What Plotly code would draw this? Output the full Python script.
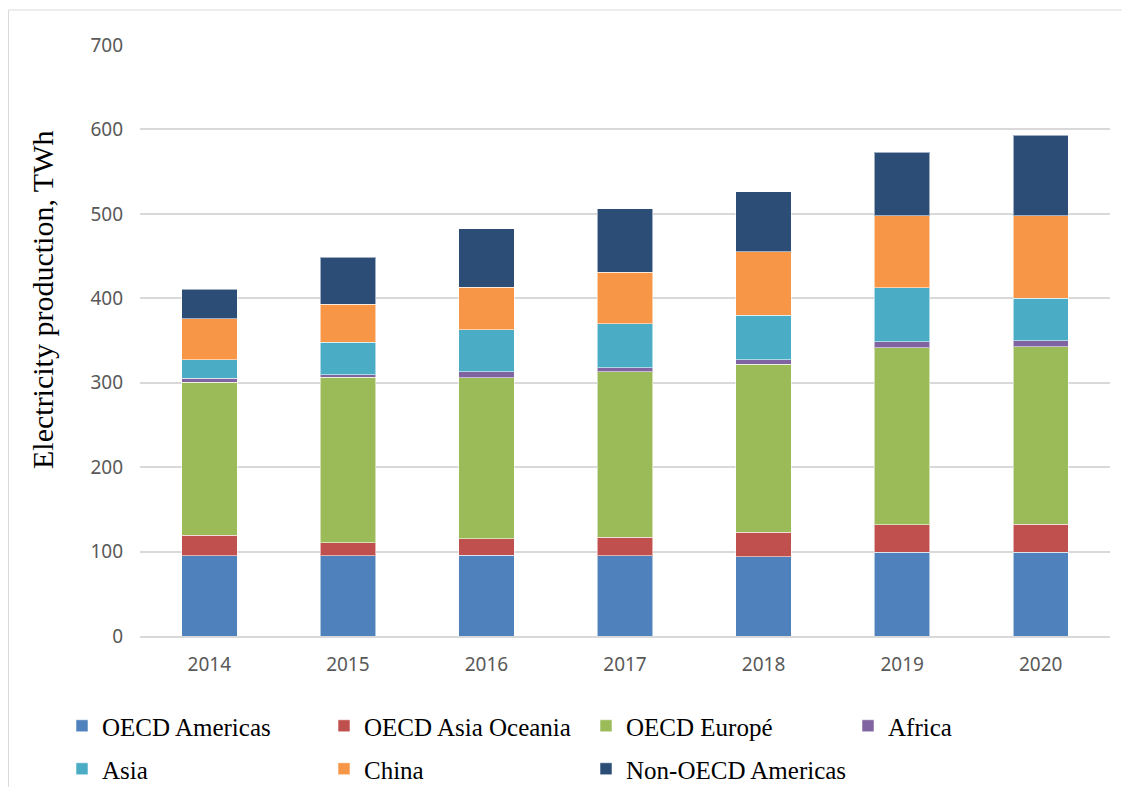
import plotly.graph_objects as go

years = ["2014", "2015", "2016", "2017", "2018", "2019", "2020"]
oecd_americas = [95, 95, 95.5, 95, 94, 99, 99]
oecd_asia_oceania = [24.5, 15.5, 19.5, 22, 29, 32.5, 33.5]
oecd_europe = [181, 196, 191, 196, 199, 210, 210]
africa = [5, 3, 7, 5, 5.5, 7, 7.5]
asia = [22, 38.5, 50, 52, 52.5, 64, 50]
china = [48, 45, 50, 61, 75, 85, 98]
non_oecd_americas = [35, 55.5, 69.5, 75, 71, 75.5, 95]

series = [
    ("OECD Americas", oecd_americas, "#4F81BD", "legend"),
    ("OECD Asia Oceania", oecd_asia_oceania, "#C0504D", "legend"),
    ("OECD Europé", oecd_europe, "#9BBB59", "legend"),
    ("Africa", africa, "#8064A2", "legend"),
    ("Asia", asia, "#4BACC6", "legend2"),
    ("China", china, "#F79646", "legend2"),
    ("Non-OECD Americas", non_oecd_americas, "#2C4D75", "legend2"),
]

fig = go.Figure()
for name, vals, color, lg in series:
    fig.add_trace(go.Bar(
        x=years, y=vals, name=name, legend=lg,
        marker=dict(color=color, line=dict(color="rgba(255,255,255,0.55)", width=1)),
    ))

legend_font = dict(family="Liberation Serif", size=25, color="#000000")

# page body has an 8px margin; work in screen coordinates and convert
OFF = 8
W, H = 1122, 800
L, T = 132, 37
PLOT_RIGHT = 1110 - OFF
R = W - PLOT_RIGHT
PLOT_BOTTOM = 636 - OFF
B = H - PLOT_BOTTOM
pw, ph = PLOT_RIGHT - L, PLOT_BOTTOM - T

def px_x(sx):
    return (sx - OFF - L) / pw

def px_y(sy):
    return (PLOT_BOTTOM - (sy - OFF)) / ph

border = dict(color="#D9D9D9", width=1)

fig.update_layout(
    width=W, height=H,
    margin=dict(l=L, r=R, t=T, b=B, autoexpand=False),
    barmode="stack",
    bargap=0.6,
    plot_bgcolor="white",
    paper_bgcolor="white",
    font=dict(family="Noto Sans", size=19, color="#595959"),
    legend=dict(
        orientation="h", x=px_x(62), y=px_y(703), xanchor="left", yanchor="top",
        font=legend_font, entrywidth=217, entrywidthmode="pixels",
        traceorder="normal", bgcolor="rgba(0,0,0,0)",
    ),
    legend2=dict(
        orientation="h", x=px_x(62), y=px_y(746), xanchor="left", yanchor="top",
        font=legend_font, entrywidth=217, entrywidthmode="pixels",
        traceorder="normal", bgcolor="rgba(0,0,0,0)",
    ),
    xaxis=dict(
        showgrid=False, showline=True, linecolor="#D9D9D9", linewidth=1.5,
        ticks="", ticklabelstandoff=10, automargin=False,
        tickfont=dict(family="Noto Sans", size=19, color="#595959"),
    ),
    yaxis=dict(
        range=[0, 700], dtick=100, showgrid=True, gridcolor="#D9D9D9", gridwidth=1.5,
        zeroline=False, showline=False, ticks="", ticklabelstandoff=16, automargin=False,
        tickfont=dict(family="Noto Sans", size=19, color="#595959"),
    ),
    annotations=[dict(
        text="Electricity production, TWh", textangle=-90,
        xref="paper", yref="paper", x=px_x(42), y=px_y(300),
        xanchor="center", yanchor="middle", showarrow=False,
        font=dict(family="Liberation Serif", size=30, color="#000000"),
    )],
    shapes=[
        dict(type="line", xref="paper", yref="paper",
             x0=px_x(8.5), x1=px_x(8.5), y0=px_y(820), y1=px_y(10), line=border, layer="below"),
        dict(type="line", xref="paper", yref="paper",
             x0=px_x(8.5), x1=px_x(1135), y0=px_y(10), y1=px_y(10), line=border, layer="below"),
    ],
)

fig.write_html("out.html")
